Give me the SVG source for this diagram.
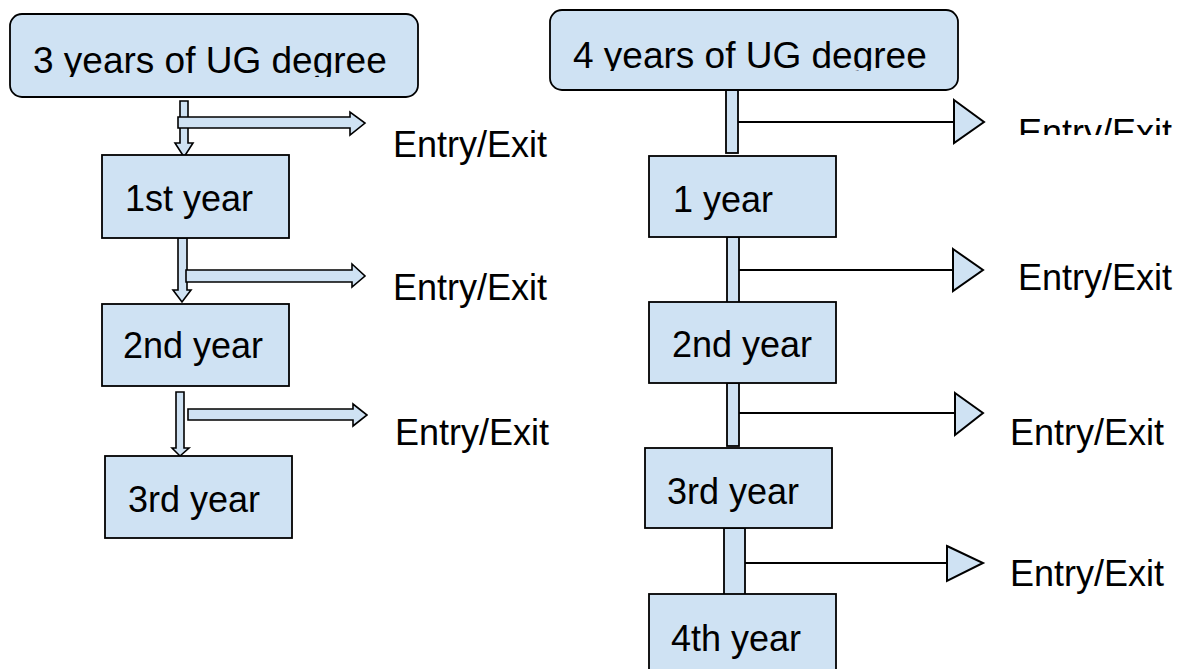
<svg xmlns="http://www.w3.org/2000/svg" width="1179" height="669" viewBox="0 0 1179 669">
<style>
.box{fill:#cfe2f3;stroke:#000;stroke-width:1.8}
.blk{fill:#cfe2f3;stroke:#000;stroke-width:1.6;stroke-linejoin:miter}
.bar{fill:#cfe2f3;stroke:#000;stroke-width:1.8}
.ln{stroke:#000;stroke-width:2;fill:none}
.tri{fill:#cfe2f3;stroke:#000;stroke-width:2;stroke-linejoin:miter}
text{font-family:"Liberation Sans",Arial,sans-serif;font-size:36px;fill:#000}
.title{font-size:37px}
</style>
<defs>
<clipPath id="cl1"><rect x="0" y="0" width="540" height="77"/></clipPath>
<clipPath id="cl2"><rect x="540" y="0" width="639" height="71"/></clipPath>
<clipPath id="cl3"><rect x="1000" y="100" width="179" height="35"/></clipPath>
</defs>
<rect width="1179" height="669" fill="#fff"/>

<g id="connectors">
<polygon class="blk" points="180,101 188,101 188,143 193,143 184,157 175,143 180,143"/>
<polygon class="blk" points="178,117 350,117 350,112 365,123 350,135 350,128 178,128"/>
<polygon class="blk" points="178,238 187,238 187,290 191,290 182,302 173,290 178,290"/>
<polygon class="blk" points="186,270 352,270 352,264 365,276 352,287 352,282 186,282"/>
<polygon class="blk" points="176,392 184,392 184,448 189,448 180,456 172,448 176,448"/>
<polygon class="blk" points="188,409 353,409 353,404 367,415 353,426 353,420 188,420"/>
<rect class="bar" x="726" y="90" width="12" height="63"/>
<line class="ln" x1="738" y1="122" x2="954" y2="122"/>
<polygon class="tri" points="954,100 984,122 954,143"/>
<rect class="bar" x="727" y="237" width="12" height="67"/>
<line class="ln" x1="739" y1="270" x2="953" y2="270"/>
<polygon class="tri" points="953,249 983,270 953,291"/>
<rect class="bar" x="727" y="383" width="12" height="63"/>
<line class="ln" x1="739" y1="413" x2="955" y2="413"/>
<polygon class="tri" points="955,393 983,413 955,435"/>
<rect class="bar" x="724" y="528" width="21" height="69"/>
<line class="ln" x1="745" y1="563" x2="947" y2="563"/>
<polygon class="tri" points="947,546 983,563 947,581"/>
</g>

<g id="ug3">
<rect class="box" x="10" y="14" width="408" height="83" rx="12"/>
<text class="title" x="33" y="73" clip-path="url(#cl1)">3 years of UG degree</text>
</g>
<g id="l-year1">
<rect class="box" x="102" y="155" width="187" height="83"/>
<text x="125" y="211">1st year</text>
</g>
<g id="l-year2">
<rect class="box" x="102" y="304" width="187" height="82"/>
<text x="123" y="358">2nd year</text>
</g>
<g id="l-year3">
<rect class="box" x="105" y="456" width="187" height="82"/>
<text x="128" y="512">3rd year</text>
</g>
<g id="l-exit1"><text x="393" y="157">Entry/Exit</text></g>
<g id="l-exit2"><text x="393" y="300">Entry/Exit</text></g>
<g id="l-exit3"><text x="395" y="445">Entry/Exit</text></g>

<g id="ug4">
<rect class="box" x="550" y="10" width="408" height="80" rx="12"/>
<text class="title" x="573" y="68" clip-path="url(#cl2)">4 years of UG degree</text>
</g>
<g id="r-year1">
<rect class="box" x="649" y="156" width="187" height="81"/>
<text x="673" y="212">1 year</text>
</g>
<g id="r-year2">
<rect class="box" x="649" y="302" width="187" height="81"/>
<text x="672" y="357">2nd year</text>
</g>
<g id="r-year3">
<rect class="box" x="645" y="448" width="187" height="80"/>
<text x="667" y="504">3rd year</text>
</g>
<g id="r-year4">
<rect class="box" x="649" y="594" width="187" height="90"/>
<text x="671" y="651">4th year</text>
</g>
<g id="r-exit1"><text x="1018" y="145" clip-path="url(#cl3)">Entry/Exit</text></g>
<g id="r-exit2"><text x="1018" y="290">Entry/Exit</text></g>
<g id="r-exit3"><text x="1010" y="445">Entry/Exit</text></g>
<g id="r-exit4"><text x="1010" y="586">Entry/Exit</text></g>
</svg>
